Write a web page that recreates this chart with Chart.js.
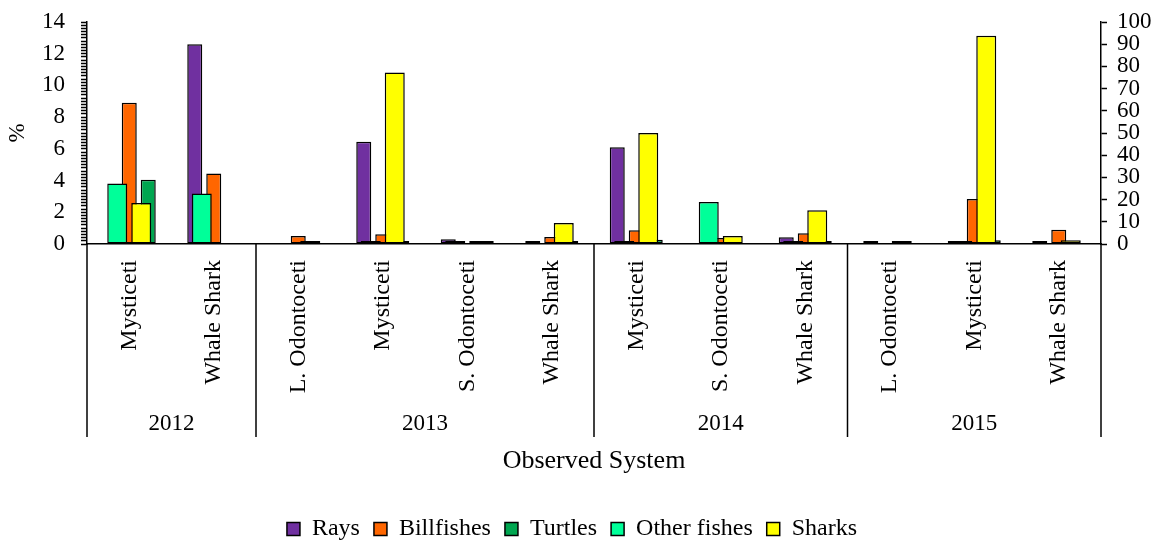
<!DOCTYPE html>
<html>
<head>
<meta charset="utf-8">
<title>Bycatch by observed system</title>
<script src="https://cdn.jsdelivr.net/npm/chart.js@4.4.1/dist/chart.umd.min.js"></script>
<style>
  html, body { margin: 0; padding: 0; background: #fff; }
  canvas { display: block; }
</style>
</head>
<body>
<canvas id="bycatchChart" width="1164" height="541"></canvas>
<script>
// categories (observed system) and the year each run of categories belongs to
const systems = ["Mysticeti", "Whale Shark", "L. Odontoceti", "Mysticeti", "S. Odontoceti", "Whale Shark",
                 "Mysticeti", "S. Odontoceti", "Whale Shark", "L. Odontoceti", "Mysticeti", "Whale Shark"];
const years = ["2012", "2013", "2014", "2015"];
const yearSpans = [2, 4, 3, 3];

// left axis (%), null = no bar
const rays       = [null, 12.6, null, 6.45, 0.3, 0, 6.1, null, 0.42, 0, 0, 0];
const billfishes = [8.9, 4.45, 0.5, 0.62, null, 0.44, 0.86, 0.38, 0.68, null, 2.84, 0.9];
const turtles    = [4.05, null, null, 0, 0.1, 0, 0.27, null, 0.15, null, 0.23, null];
// right axis (%)
const otherFishes = [27.3, 22.8, null, 0.5, 0, null, 0, 18.9, 0, null, 0, null];
const sharks      = [18.5, null, 0, 77.2, 1.35, 9.5, 50, 3.6, 15.2, 0, 93.8, 1.7];

const legendOrder = ["Rays", "Billfishes", "Turtles", "Other fishes", "Sharks"];
const leftTicks = { min: 0, max: 14, step: 0.2, labelEvery: 2 };
const rightTicks = { min: 0, max: 100, step: 10 };

const FONT = '"Liberation Serif", "Times New Roman", serif';

// five slots per category; each series gets its own categoryPercentage so the
// left-axis bars (narrow) and right-axis bars (wide) sit in two overlapping rows
function series(label, data, color, axis, catPct, barPct) {
  return {
    label, data,
    backgroundColor: color, borderColor: "#000", borderWidth: 1.5, borderSkipped: false,
    xAxisID: "x", yAxisID: axis,
    categoryPercentage: catPct, barPercentage: barPct, minBarLength: 3
  };
}

// right-axis series are painted after the left-axis ones
const rightOnTop = {
  id: "rightOnTop",
  beforeDatasetDraw(chart, args) {
    if (args.meta.yAxisID === "y2" && !chart.$rightPass) return false;
  },
  afterDatasetsDraw(chart) {
    chart.$rightPass = true;
    chart.data.datasets.forEach((d, i) => {
      const meta = chart.getDatasetMeta(i);
      if (meta.yAxisID === "y2" && meta.visible !== false) meta.controller.draw();
    });
    chart.$rightPass = false;
  }
};

// nudge the legend row a little to the left
const legendShift = {
  id: "legendShift",
  afterLayout(chart) {
    chart.legend.left -= 10;
    chart.legend.right -= 10;
  }
};

// year brackets under the category labels
const yearGroups = {
  id: "yearGroups",
  afterDraw(chart) {
    const { ctx, chartArea } = chart;
    const x = chart.scales.x;
    const half = (x.getPixelForTick(1) - x.getPixelForTick(0)) / 2;
    const lineBottom = 437, labelY = 424;
    ctx.save();
    ctx.strokeStyle = "#000";
    ctx.lineWidth = 1.5;
    ctx.fillStyle = "#000";
    ctx.font = "23px " + FONT;
    ctx.textAlign = "center";
    ctx.textBaseline = "middle";
    let idx = 0;
    const edges = [x.getPixelForTick(0) - half];
    yearSpans.forEach((n, k) => {
      const left = x.getPixelForTick(idx) - half;
      idx += n;
      const right = x.getPixelForTick(idx - 1) + half;
      edges.push(right);
      ctx.fillText(years[k], (left + right) / 2, labelY);
    });
    edges.forEach(px => {
      ctx.beginPath();
      ctx.moveTo(px, chartArea.bottom);
      ctx.lineTo(px, lineBottom);
      ctx.stroke();
    });
    ctx.restore();
  }
};

// keep the value axes from pushing the plot down for their end labels
function fixWidth(w) {
  return s => { s.width = w; s.paddingTop = 0; s.paddingBottom = 0; };
}

new Chart(document.getElementById("bycatchChart"), {
  type: "bar",
  data: {
    labels: systems,
    datasets: [
      series("Rays", rays, "#7030A0", "y", 0.562, 1.579),
      series("Other fishes", otherFishes, "#00FF99", "y2", 0.710, 1.667),
      series("Billfishes", billfishes, "#FF6600", "y", 1.0, 0.888),
      series("Sharks", sharks, "#FFFF00", "y2", 0.710, 1.667),
      series("Turtles", turtles, "#00A650", "y", 0.562, 1.579)
    ]
  },
  options: {
    responsive: false,
    animation: false,
    layout: { padding: { top: 22, left: 0, right: 0, bottom: -10 } },
    plugins: {
      tooltip: { enabled: false },
      legend: {
        position: "bottom",
        labels: {
          boxWidth: 13, boxHeight: 13, padding: 14, color: "#000",
          font: { family: FONT, size: 24 },
          sort: (a, b) => legendOrder.indexOf(a.text) - legendOrder.indexOf(b.text)
        }
      }
    },
    scales: {
      x: {
        type: "category",
        offset: true,
        grid: { display: false, drawTicks: false },
        border: { display: true, color: "#000", width: 1.5 },
        ticks: {
          color: "#000", font: { family: FONT, size: 24 },
          minRotation: 90, maxRotation: 90, padding: 16, autoSkip: false
        },
        title: {
          display: true, text: "Observed System", color: "#000",
          font: { family: FONT, size: 26 }, padding: { top: 0, bottom: 26 }
        },
        afterFit: s => { s.height = 259; }
      },
      y: {
        position: "left",
        min: leftTicks.min, max: leftTicks.max,
        grid: { drawOnChartArea: false, drawTicks: true, tickLength: 6, tickColor: "#000", tickWidth: 1.5 },
        border: { display: true, color: "#000", width: 1.5 },
        ticks: {
          stepSize: leftTicks.step, autoSkip: false, padding: 16, color: "#000",
          font: { family: FONT, size: 23 },
          callback: v => {
            const r = Math.round(v);
            return (Math.abs(v - r) < 1e-6 && r % leftTicks.labelEvery === 0) ? String(r) : "";
          }
        },
        title: {
          display: true, text: "%", color: "#000",
          font: { family: FONT, size: 23 }, padding: { top: 4, bottom: 0 }
        },
        afterFit: fixWidth(87)
      },
      y2: {
        position: "right",
        min: rightTicks.min, max: rightTicks.max,
        grid: { drawOnChartArea: false, drawTicks: true, tickLength: 6, tickColor: "#000", tickWidth: 1.5 },
        border: { display: true, color: "#000", width: 1.5 },
        ticks: {
          stepSize: rightTicks.step, padding: 10, color: "#000", autoSkip: false,
          font: { family: FONT, size: 23 }
        },
        afterFit: fixWidth(63)
      }
    }
  },
  plugins: [rightOnTop, legendShift, yearGroups]
});
</script>
</body>
</html>
